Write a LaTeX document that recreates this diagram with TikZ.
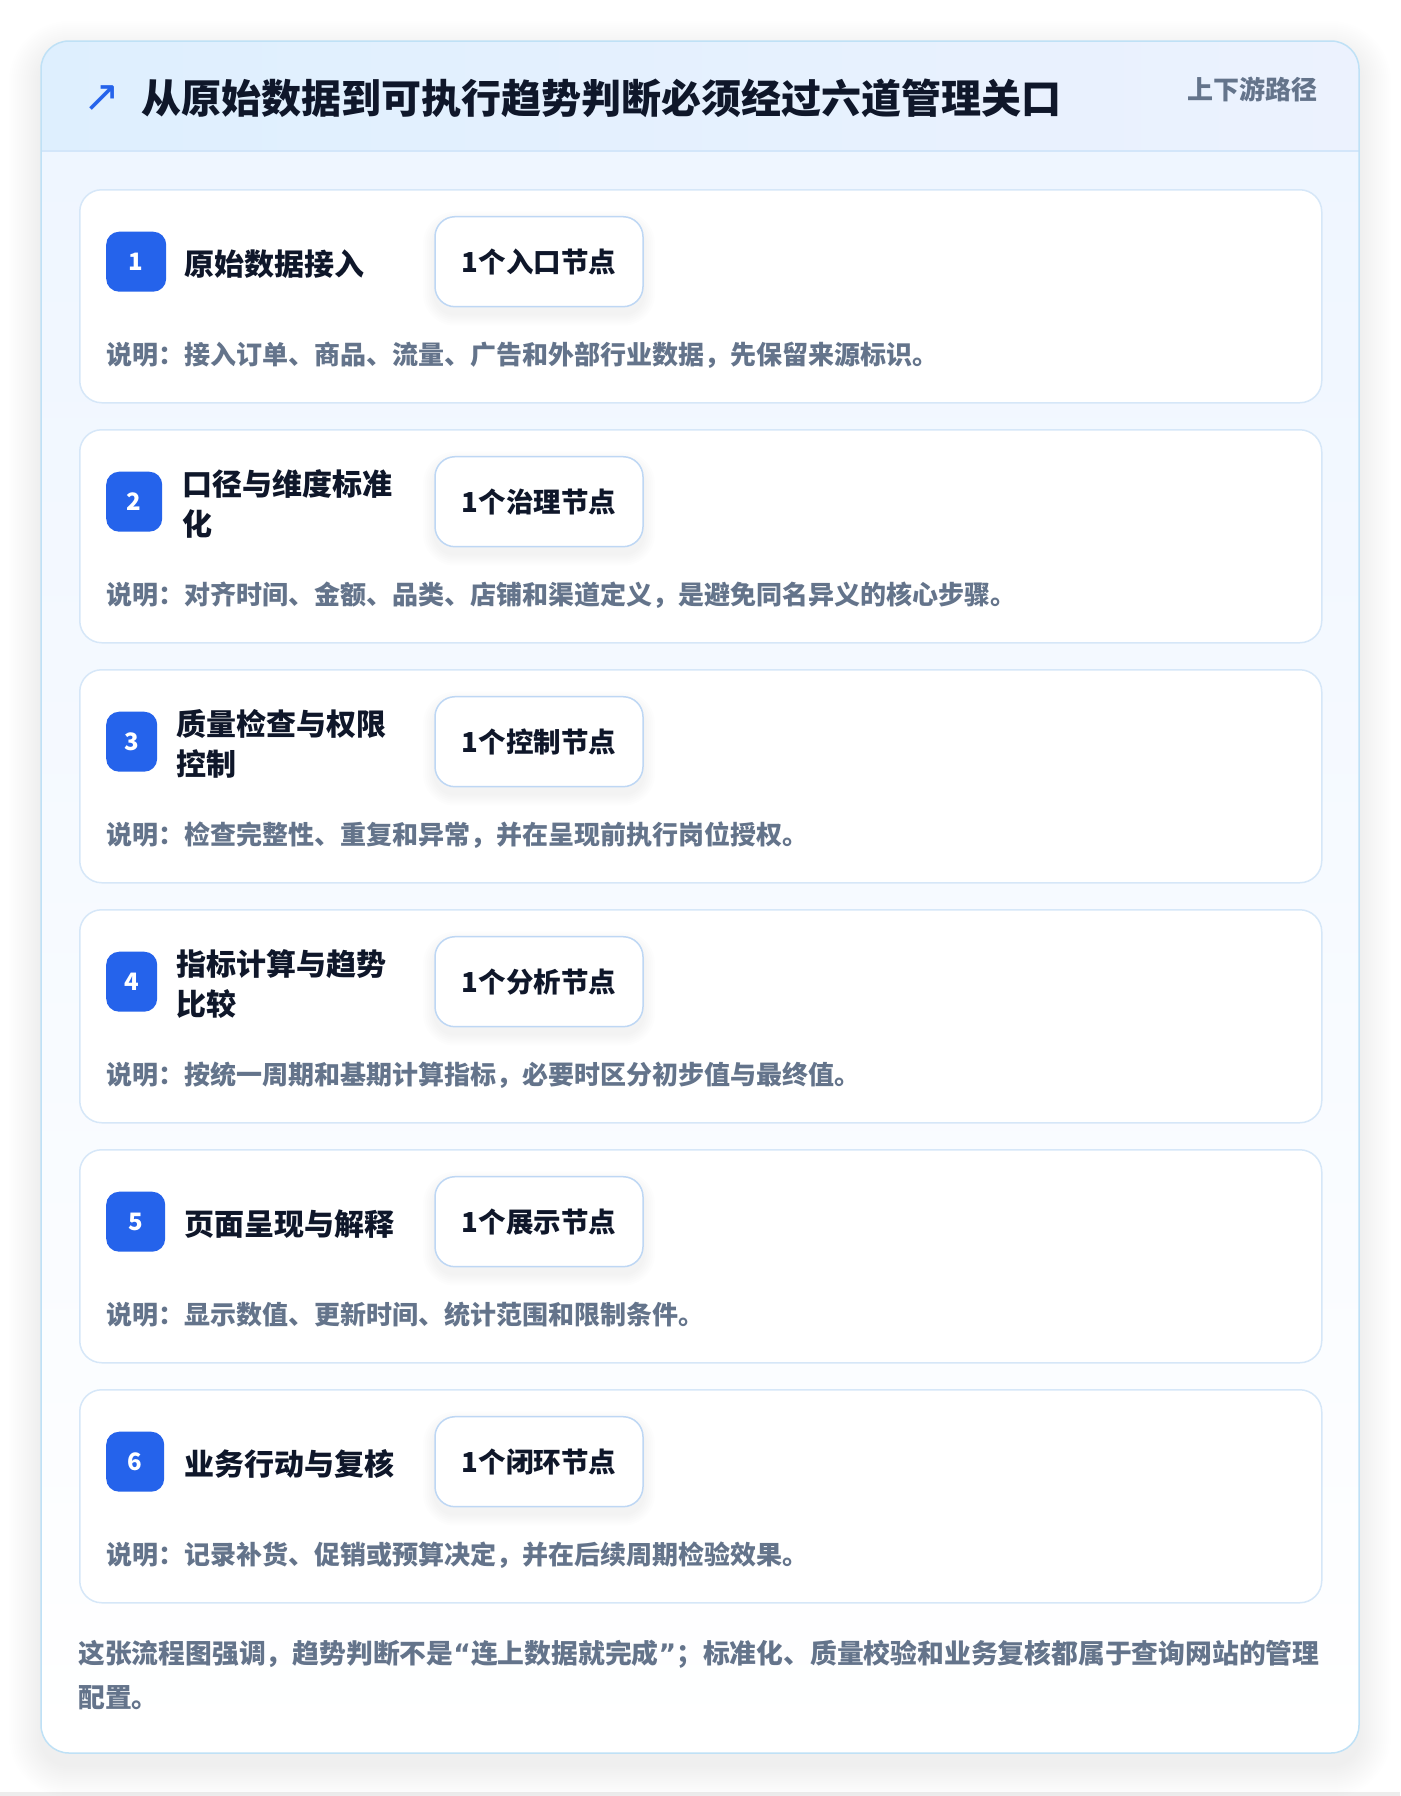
\documentclass[tikz,border=0pt]{standalone}
\usepackage{fontspec}
\setmainfont{Noto Sans CJK SC}
\newfontfamily\dv{DejaVu Sans}
\definecolor{ink}{HTML}{0F172A}
\definecolor{muted}{HTML}{64748B}
\definecolor{blue}{HTML}{2563EB}
\definecolor{hdrL}{HTML}{DEEFFE}
\definecolor{hdrR}{HTML}{ECF2FE}
\definecolor{hdrLine}{HTML}{D3E6FA}
\definecolor{bodyTop}{HTML}{EFF6FF}
\definecolor{outerBorder}{HTML}{BFE1F6}
\definecolor{stageBorder}{HTML}{D6E7F8}
\definecolor{pillBorder}{HTML}{BED7F4}
\tikzset{
  stagebox/.style={draw=stageBorder, line width=1.5pt, fill=white, rounded corners=22pt, inner sep=0pt},
  badge/.style={fill=blue, rounded corners=13pt, inner sep=0pt, text=white, font=\bfseries\fontsize{24}{24}\selectfont},
  steplabel/.style={inner sep=0pt, text=ink, align=left, font=\bfseries\fontsize{30}{40}\selectfont},
  pill/.style={draw=pillBorder, line width=1.5pt, fill=white, rounded corners=20pt, inner sep=0pt, text=ink, font=\bfseries\fontsize{27.5}{27.5}\selectfont},
  desc/.style={inner sep=0pt, text=muted, font=\bfseries\fontsize{26}{26}\selectfont},
}
\begin{document}
\begin{tikzpicture}[x=1pt,y=-1pt]
\useasboundingbox (0,0) rectangle (1400,1796);
\fill[white] (0,0) rectangle (1400,1796);
\fill[black!7] (0,1792) rectangle (1400,1796);
% outer shadow
\foreach \i in {1,...,16} {
  \fill[black, opacity=0.005, rounded corners={28+\i*2}] ({41-\i*2},{41-\i*2+12}) rectangle ({1359+\i*2},{1753+\i*2+12});
}
% outer card
\begin{scope}
  \clip[rounded corners=28pt] (41,41) rectangle (1359,1753);
  \shade[top color=bodyTop, bottom color=white] (41,151) rectangle (1359,1753);
  \shade[left color=hdrL, right color=hdrR] (41,41) rectangle (1359,151);
  \draw[hdrLine, line width=1.5pt] (41,151) -- (1359,151);
\end{scope}
\draw[outerBorder, line width=1.5pt, rounded corners=28pt] (41,41) rectangle (1359,1753);
% header
\node[inner sep=0pt, text=blue, anchor=center, font=\dv\fontsize{44}{44}\selectfont] (icon) at (102,99) {↗};
\node[inner sep=0pt, text=ink, anchor=west, font=\bfseries\fontsize{40}{40}\selectfont] (title) at (141,98) {从原始数据到可执行趋势判断必须经过六道管理关口};
\node[inner sep=0pt, text=muted, anchor=east, font=\bfseries\fontsize{26}{26}\selectfont] (tag) at (1318,89) {上下游路径};
% stages
\foreach \k/\bw/\lx/\lab/\pl/\ds in {
  1/60/184/{原始数据接入}/{入口}/{接入订单、商品、流量、广告和外部行业数据，先保留来源标识。},
  2/56/182/{口径与维度标准\\化}/{治理}/{对齐时间、金额、品类、店铺和渠道定义，是避免同名异义的核心步骤。},
  3/51/176/{质量检查与权限\\控制}/{控制}/{检查完整性、重复和异常，并在呈现前执行岗位授权。},
  4/51/176/{指标计算与趋势\\比较}/{分析}/{按统一周期和基期计算指标，必要时区分初步值与最终值。},
  5/59/184/{页面呈现与解释}/{展示}/{显示数值、更新时间、统计范围和限制条件。},
  6/58/184/{业务行动与复核}/{闭环}/{记录补货、促销或预算决定，并在后续周期检验效果。}} {
  \pgfmathsetmacro\T{189+240*(\k-1)}
  \node[stagebox, minimum width=1242pt, minimum height=213pt, anchor=north west] (card\k) at (79,\T) {};
  \node[badge, minimum width=\bw pt, minimum height=60pt, anchor=west] (badge\k) at (106,\T+72.7) {\k};
  \node[steplabel, anchor=west] (lab\k) at (\lx,\T+75) {\lab};
  \foreach \j in {1,...,6} {
    \fill[black, opacity=0.008, rounded corners={20+\j*2}] ({435-\j*2},{\T+27.7-\j*2+7}) rectangle ({643+\j*2},{\T+117.7+\j*2+7});
  }
  \node[pill, minimum width=208pt, minimum height=90pt, anchor=center] (pill\k) at (539,\T+72.7) {1个\pl 节点};
  \node[desc, anchor=west] (desc\k) at (106,\T+166) {说明：\ds};
}
% footer
\node[inner sep=0pt, anchor=base west, align=left, text=muted, font=\bfseries\fontsize{26.8}{44}\selectfont] (foot) at (78,1707) {这张流程图强调，趋势判断不是{\dv “}连上数据就完成{\dv ”}；标准化、质量校验和业务复核都属于查询网站的管理\\配置。};
\end{tikzpicture}
\end{document}
